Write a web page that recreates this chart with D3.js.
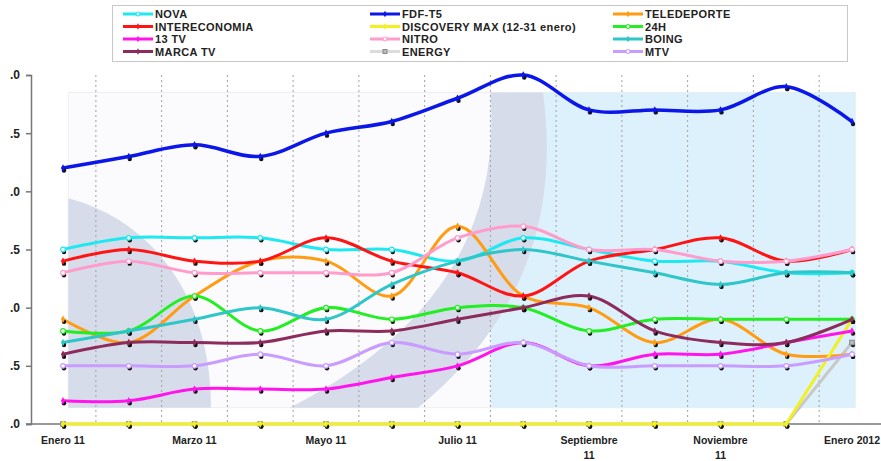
<!DOCTYPE html>
<html>
<head>
<meta charset="utf-8">
<script src="https://cdn.jsdelivr.net/npm/d3@7"></script>
<style>
  body { margin: 0; background: #fff; }
  svg { display: block; font-family: "Liberation Sans", Arial, sans-serif; }
</style>
</head>
<body>
<div id="chart"></div>
<script>
// months on the x axis (only every other one gets a label)
var months = ["Ene 11","Feb 11","Mar 11","Abr 11","May 11","Jun 11","Jul 11","Ago 11","Sep 11","Oct 11","Nov 11","Dic 11","Ene 12"];
var monthLabels = [["Enero 11"], [""], ["Marzo 11"], [""], ["Mayo 11"], [""], ["Julio 11"], [""],
                   ["Septiembre", "11"], [""], ["Noviembre", "11"], [""], ["Enero 2012"]];
var yTicks = [0, 0.5, 1, 1.5, 2, 2.5, 3];

var nova          = [1.5, 1.6, 1.6, 1.6, 1.5, 1.5, 1.4, 1.6, 1.5, 1.4, 1.4, 1.3, 1.3];
var fdf           = [2.2, 2.3, 2.4, 2.3, 2.5, 2.6, 2.8, 3.0, 2.7, 2.7, 2.7, 2.9, 2.6];
var teledeporte   = [0.9, 0.7, 1.1, 1.4, 1.4, 1.1, 1.7, 1.1, 1.0, 0.7, 0.9, 0.6, 0.6];
var intereconomia = [1.4, 1.5, 1.4, 1.4, 1.6, 1.4, 1.3, 1.1, 1.4, 1.5, 1.6, 1.4, 1.5];
var discovery     = [0, 0, 0, 0, 0, 0, 0, 0, 0, 0, 0, 0, 0.9];
var h24           = [0.8, 0.8, 1.1, 0.8, 1.0, 0.9, 1.0, 1.0, 0.8, 0.9, 0.9, 0.9, 0.9];
var tv13          = [0.2, 0.2, 0.3, 0.3, 0.3, 0.4, 0.5, 0.7, 0.5, 0.6, 0.6, 0.7, 0.8];
var nitro         = [1.3, 1.4, 1.3, 1.3, 1.3, 1.3, 1.6, 1.7, 1.5, 1.5, 1.4, 1.4, 1.5];
var boing         = [0.7, 0.8, 0.9, 1.0, 0.9, 1.2, 1.4, 1.5, 1.4, 1.3, 1.2, 1.3, 1.3];
var marca         = [0.6, 0.7, 0.7, 0.7, 0.8, 0.8, 0.9, 1.0, 1.1, 0.8, 0.7, 0.7, 0.9];
var energy        = [0, 0, 0, 0, 0, 0, 0, 0, 0, 0, 0, 0, 0.7];
var mtv           = [0.5, 0.5, 0.5, 0.6, 0.5, 0.7, 0.6, 0.7, 0.5, 0.5, 0.5, 0.5, 0.6];

var series = [
  { name: "NOVA", values: nova, color: "#1ee8f0", mark: "circle" },
  { name: "FDF-T5", values: fdf, color: "#0b16e8", mark: "diamond", width: 3.5 },
  { name: "TELEDEPORTE", values: teledeporte, color: "#ff9c14", mark: "diamond" },
  { name: "INTERECONOMIA", values: intereconomia, color: "#ff1414", mark: "diamond" },
  { name: "DISCOVERY MAX (12-31 enero)", values: discovery, color: "#f2f020", mark: "diamond", straight: true },
  { name: "24H", values: h24, color: "#22ee22", mark: "circle" },
  { name: "13 TV", values: tv13, color: "#ff14ee", mark: "diamond" },
  { name: "NITRO", values: nitro, color: "#ff9ccc", mark: "circle" },
  { name: "BOING", values: boing, color: "#2ec6c8", mark: "diamond" },
  { name: "MARCA TV", values: marca, color: "#8c2b5c", mark: "diamond" },
  { name: "ENERGY", values: energy, color: "#dcdcdc", mark: "square", straight: true },
  { name: "MTV", values: mtv, color: "#c99cff", mark: "circle" }
];

var width = 881, height = 461;

var svg = d3.select("#chart").append("svg")
  .attr("width", width).attr("height", height);

var x = d3.scaleLinear().domain([0, 12]).range([63, 852]);
var y = d3.scaleLinear().domain([0, 3]).range([424, 75]);

// background artwork behind the plot
var bg = svg.append("g");
bg.append("rect")
  .attr("x", x(0.08)).attr("y", y(2.85))
  .attr("width", x(12.05) - x(0.08)).attr("height", y(0.14) - y(2.85))
  .attr("fill", "#fbfbfd").attr("stroke", "#eeeeee");
bg.append("rect")
  .attr("x", x(6.5)).attr("y", y(2.85))
  .attr("width", x(12.05) - x(6.5)).attr("height", y(0.14) - y(2.85))
  .attr("fill", "#ddf1fc");
bg.append("path")
  .attr("d", "M" + x(0.08) + "," + y(1.94) +
             " C" + x(1.35) + "," + y(1.75) + " " + x(2.25) + "," + y(1.1) + " " + x(2.25) + "," + y(0.14) +
             " L" + x(0.08) + "," + y(0.14) + "Z")
  .attr("fill", "#d6dcea");
bg.append("path")
  .attr("d", "M" + x(3.45) + "," + y(0.14) +
             " Q" + x(6.75) + "," + y(1.1) + " " + x(6.5) + "," + y(2.85) +
             " L" + x(7.3) + "," + y(2.85) +
             " Q" + x(7.7) + "," + y(1.2) + " " + x(5.4) + "," + y(0.14) + "Z")
  .attr("fill", "#d6dcea");

// dotted gridlines between months
svg.append("g")
  .selectAll("line")
  .data(d3.range(12))
  .enter().append("line")
  .attr("x1", function (d) { return x(d + 0.5); })
  .attr("x2", function (d) { return x(d + 0.5); })
  .attr("y1", y(3)).attr("y2", y(0))
  .attr("stroke", "#a0a0a0")
  .attr("stroke-dasharray", "2,3");

// y axis
var yAxis = svg.append("g")
  .attr("transform", "translate(31,0)")
  .call(d3.axisLeft(y).tickValues(yTicks).tickSize(5).tickPadding(6)
    .tickFormat(function (d) { return d3.format(".1f")(d).slice(1); }));
yAxis.select(".domain").attr("stroke", "#777").attr("stroke-width", 1.5);
yAxis.selectAll(".tick line").attr("stroke", "#777").attr("stroke-width", 1.5);
yAxis.selectAll("text").attr("font-size", 12).attr("font-weight", "bold").attr("fill", "#222");

// x axis line
svg.append("line")
  .attr("x1", 26).attr("x2", width).attr("y1", y(0)).attr("y2", y(0))
  .attr("stroke", "#777").attr("stroke-width", 1.5);

var xl = svg.append("g").selectAll("text")
  .data(monthLabels)
  .enter().append("text")
  .attr("x", function (d, i) { return x(i); })
  .attr("y", 444)
  .attr("text-anchor", "middle")
  .attr("font-size", 10.5).attr("font-weight", "bold").attr("fill", "#222");
xl.selectAll("tspan")
  .data(function (d) { return d; })
  .enter().append("tspan")
  .attr("x", function () { return d3.select(this.parentNode).attr("x"); })
  .attr("dy", function (d, i) { return i ? 15 : 0; })
  .text(function (d) { return d; });

var smooth = d3.line()
  .x(function (d, i) { return x(i); })
  .y(function (d) { return y(d); })
  .curve(d3.curveCatmullRom.alpha(0.5));
var flat = d3.line()
  .x(function (d, i) { return x(i); })
  .y(function (d) { return y(d); });

function marker(sel, s, size) {
  if (s.mark === "circle") {
    sel.append("circle").attr("r", size).attr("fill", "#fff")
      .attr("stroke", s.color).attr("stroke-width", 1.2);
  } else if (s.mark === "square") {
    sel.append("rect").attr("x", -size).attr("y", -size)
      .attr("width", size * 2).attr("height", size * 2)
      .attr("fill", "#bbb").attr("stroke", "#888");
  } else {
    sel.append("path").attr("d", d3.symbol(d3.symbolDiamond, size * size * 3)())
      .attr("fill", s.color);
  }
}

// energy first so the yellow line lies over it
var drawOrder = [series[10]].concat(series.filter(function (s) { return s.name !== "ENERGY"; }));
var lines = svg.append("g");
drawOrder.forEach(function (s) {
  var g = lines.append("g");
  g.append("path")
    .datum(s.values)
    .attr("d", s.straight ? flat : smooth)
    .attr("fill", "none")
    .attr("stroke", s.name === "ENERGY" ? "#c8c8c8" : s.color)
    .attr("stroke-width", s.width || 3);
  var pts = g.selectAll(".pt")
    .data(s.values)
    .enter().append("g")
    .attr("class", "pt")
    .attr("transform", function (d, i) { return "translate(" + x(i) + "," + y(d) + ")"; });
  pts.append("circle").attr("cx", 1).attr("cy", 2.5).attr("r", 2.2).attr("fill", "#111");
  pts.each(function () { marker(d3.select(this), s, 2.3); });
});

// legend
var legend = svg.append("g");
legend.append("rect")
  .attr("x", 112.5).attr("y", 5.5).attr("width", 735).attr("height", 56)
  .attr("fill", "#fff").attr("stroke", "#c8c8c8");

var legendCols = [123, 370, 613];
var items = legend.selectAll(".item")
  .data(series)
  .enter().append("g")
  .attr("class", "item")
  .attr("transform", function (d, i) {
    var col = i % 3, row = Math.floor(i / 3);
    return "translate(" + legendCols[col] + "," + (14 + row * 12.5) + ")";
  });
items.append("line")
  .attr("x1", 0).attr("x2", 30).attr("y1", 0).attr("y2", 0)
  .attr("stroke", function (d) { return d.color; })
  .attr("stroke-width", 3);
items.append("g").attr("transform", "translate(15,0)")
  .each(function (d) { marker(d3.select(this), d, 2); });
items.append("text")
  .attr("x", 32).attr("y", 4)
  .attr("font-size", 11).attr("font-weight", "bold").attr("fill", "#222")
  .attr("letter-spacing", 0.4)
  .text(function (d) { return d.name; });
</script>
</body>
</html>
